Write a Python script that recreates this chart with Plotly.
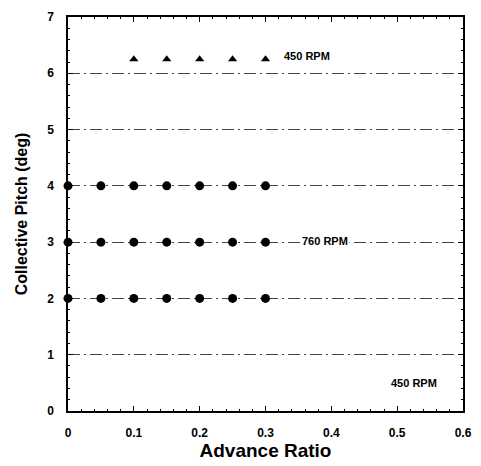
import plotly.graph_objects as go

# Data
adv_circles = [0.0, 0.05, 0.10, 0.15, 0.20, 0.25, 0.30]
pitch_760_a = [2.0, 2.0, 2.0, 2.0, 2.0, 2.0, 2.0]
pitch_760_b = [3.0, 3.0, 3.0, 3.0, 3.0, 3.0, 3.0]
pitch_760_c = [4.0, 4.0, 4.0, 4.0, 4.0, 4.0, 4.0]
adv_tri = [0.10, 0.15, 0.20, 0.25, 0.30]
pitch_450 = [6.25, 6.25, 6.25, 6.25, 6.25]
x_ticks = [0, 0.1, 0.2, 0.3, 0.4, 0.5, 0.6]
x_tick_text = ["0", "0.1", "0.2", "0.3", "0.4", "0.5", "0.6"]
y_ticks = [0, 1, 2, 3, 4, 5, 6, 7]
labels = [("450 RPM", 0.325, 6.3), ("760 RPM", 0.352, 3.02), ("450 RPM", 0.487, 0.5)]

fig = go.Figure()
for ys in (pitch_760_a, pitch_760_b, pitch_760_c):
    fig.add_trace(go.Scatter(x=adv_circles, y=ys, mode="markers",
                             marker=dict(symbol="circle", size=9, color="black"),
                             showlegend=False, cliponaxis=False))
fig.add_trace(go.Scatter(x=adv_tri, y=pitch_450, mode="markers",
                         marker=dict(symbol="triangle-up", size=8, color="black"),
                         showlegend=False))

for text, x, y in labels:
    fig.add_annotation(x=x, y=y, text=text, showarrow=False, xanchor="left",
                       bgcolor="white", borderpad=1,
                       font=dict(family="Liberation Sans", size=11, color="black", weight="bold"))

axis_common = dict(showline=True, linecolor="black", linewidth=1.5, mirror="ticks",
                   ticks="inside", ticklen=5, tickcolor="black", zeroline=False,
                   ticklabelstandoff=10,
                   tickfont=dict(family="Liberation Sans", size=12, color="black", weight="bold"))

fig.update_xaxes(range=[0, 0.6], tickvals=x_ticks, ticktext=x_tick_text, showgrid=False,
                 minor=dict(ticks="inside", ticklen=2, dtick=0.02, tickcolor="black"),
                 title=dict(text="Advance Ratio", standoff=4,
                            font=dict(family="Liberation Sans", size=19, color="black", weight="bold")),
                 **axis_common)
fig.update_yaxes(range=[0, 7], tickvals=y_ticks, showgrid=True, gridcolor="#444444",
                 gridwidth=1, griddash="12px,4px,2px,4px",
                 minor=dict(ticks="inside", ticklen=2, dtick=0.2, tickcolor="black"),
                 title=dict(text="Collective Pitch (deg)", standoff=16,
                            font=dict(family="Liberation Sans", size=16, color="black", weight="bold")),
                 **axis_common)

fig.update_layout(width=481, height=466, margin=dict(l=68, r=9, t=17, b=53),
                  plot_bgcolor="white", paper_bgcolor="white")
fig.write_html("out.html")
